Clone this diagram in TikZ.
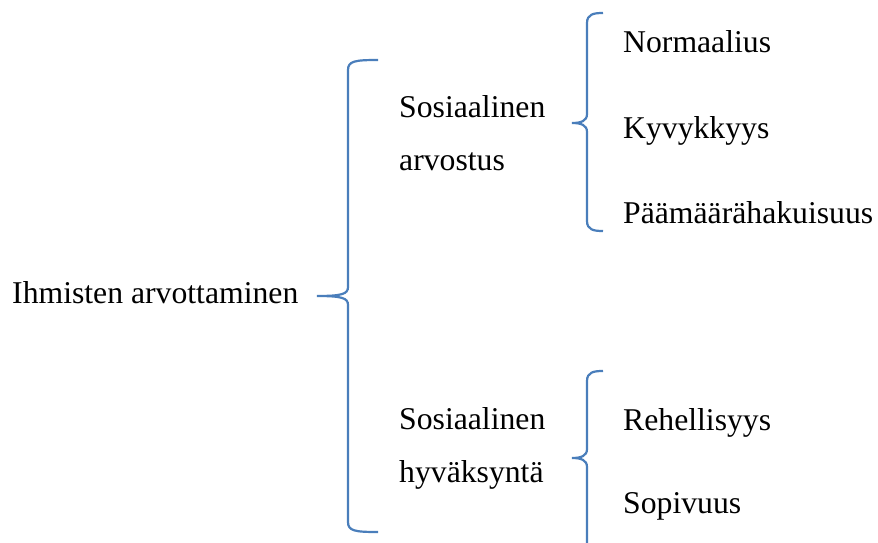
\documentclass[tikz,border=0pt]{standalone}
\usepackage{fontspec}
\setmainfont{Liberation Serif}
\usetikzlibrary{positioning}
\definecolor{braceblue}{HTML}{4A7EBB}

% spine x, tip x, cusp x, top y, middle y, bottom y
\newcommand{\bracepath}[6]{%
  \draw[brace] (#2,#4) .. controls (#1+7,#4) and (#1,#4+1) .. (#1,#4+10)
    -- (#1,#5-9) .. controls (#1,#5-2) and (#1-6,#5) .. (#3,#5)
    .. controls (#1-6,#5) and (#1,#5+2) .. (#1,#5+9)
    -- (#1,#6-10) .. controls (#1,#6-1) and (#1+7,#6) .. (#2,#6);}

\begin{document}
\begin{tikzpicture}[
      x=1pt,y=-1pt,
      txt/.style={anchor=base west,inner sep=0pt,align=left,
                  font=\fontsize{31.7pt}{53pt}\selectfont},
      brace/.style={draw=braceblue,line width=2.2pt}]
    \useasboundingbox (0,0) rectangle (878,543);
    \node[txt] (root) at (12,303) {Ihmisten arvottaminen};
    \node[txt] (arv) at (399,170) {Sosiaalinen\\arvostus};
    \node[txt] (hyv) at (399,482) {Sosiaalinen\\hyväksyntä};
    \node[txt] (norm) at (623,53) {Normaalius};
    \node[txt] (kyv) at (623,138) {Kyvykkyys};
    \node[txt] (paam) at (623,223) {Päämäärähakuisuus};
    \node[txt] (rehe) at (623,430) {Rehellisyys};
    \node[txt] (sopi) at (623,513) {Sopivuus};
    \bracepath{348}{378}{317}{60}{296}{532}
    \bracepath{587}{603}{572}{13}{123}{231}
    \bracepath{587}{603}{572}{371}{458}{556}
  \end{tikzpicture}
\end{document}
